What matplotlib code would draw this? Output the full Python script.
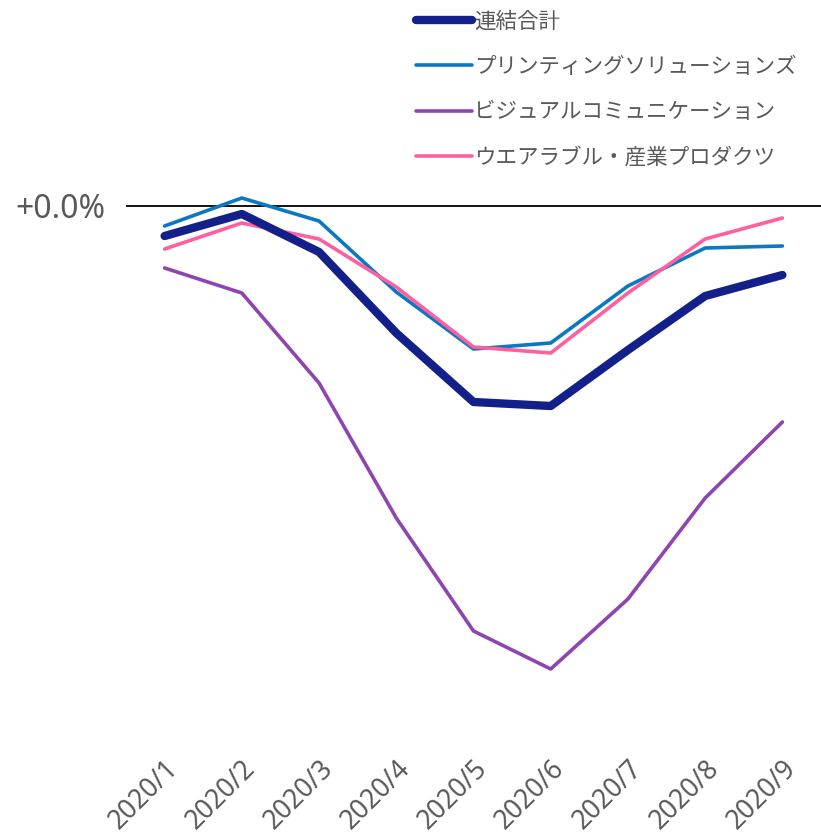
import matplotlib.pyplot as plt
from matplotlib.ticker import FuncFormatter

plt.rcParams['font.family'] = ['Noto Sans CJK JP', 'DejaVu Sans']

# month-on-month change vs prior year (%)
months = ["2020/1", "2020/2", "2020/3", "2020/4", "2020/5",
          "2020/6", "2020/7", "2020/8", "2020/9"]
total = [-1.5, -0.4, -2.3, -6.35, -9.8, -10.0, -7.2, -4.5, -3.45]
printing = [-1.0, 0.4, -0.75, -4.3, -7.15, -6.85, -4.0, -2.1, -2.0]
visual = [-3.1, -4.35, -8.85, -15.6, -21.25, -23.15, -19.65, -14.6, -10.8]
wearable = [-2.15, -0.85, -1.65, -4.05, -7.05, -7.35, -4.35, -1.65, -0.6]

names = ["連結合計", "プリンティングソリューションズ",
         "ビジュアルコミュニケーション", "ウエアラブル・産業プロダクツ"]

gray = "#595959"

fig = plt.figure(figsize=(8.21, 8.35), dpi=100)
ax = fig.add_axes([126 / 821, 1 - 742 / 835, 1 - 126 / 821, (742 - 180) / 835])

x = range(len(months))
ax.axhline(0, color="black", lw=1.3, zorder=1)
ax.plot(x, total, color="#13208A", lw=6, solid_capstyle="round", label=names[0], zorder=5)
ax.plot(x, printing, color="#0A78C2", lw=2.6, solid_capstyle="round", label=names[1], zorder=3)
ax.plot(x, visual, color="#8E45B0", lw=2.6, solid_capstyle="round", label=names[2], zorder=3)
ax.plot(x, wearable, color="#FF5F9E", lw=2.6, solid_capstyle="round", label=names[3], zorder=4)

ax.set_xlim(-0.5, len(months) - 0.5)
ax.set_ylim(-(742 - 206) / 20, (206 - 180) / 20)

ax.set_xticks(list(x))
ax.set_xticklabels(months, rotation=45, ha="right", va="top", rotation_mode="anchor",
                   fontsize=19, color=gray, family=["Noto Sans", "DejaVu Sans"])
ax.set_yticks([0])
ax.yaxis.set_major_formatter(FuncFormatter(lambda v, p: "+%.1f%%" % v))
ax.tick_params(axis="y", length=0, pad=15, labelsize=23, labelcolor=gray)
ax.tick_params(axis="x", length=0, pad=9)
for lab in ax.get_yticklabels():
    lab.set_family(["Noto Sans", "DejaVu Sans"])
for s in ax.spines.values():
    s.set_visible(False)

leg = ax.legend(loc="upper left", bbox_to_anchor=(405 / 821, 1 - 0 / 835),
                bbox_transform=fig.transFigure, frameon=False, fontsize=15.5,
                handlelength=2.6, handletextpad=0.1, labelspacing=1.08, borderpad=0)
for t in leg.get_texts():
    t.set_color(gray)

fig.savefig("out.png", dpi=100)
